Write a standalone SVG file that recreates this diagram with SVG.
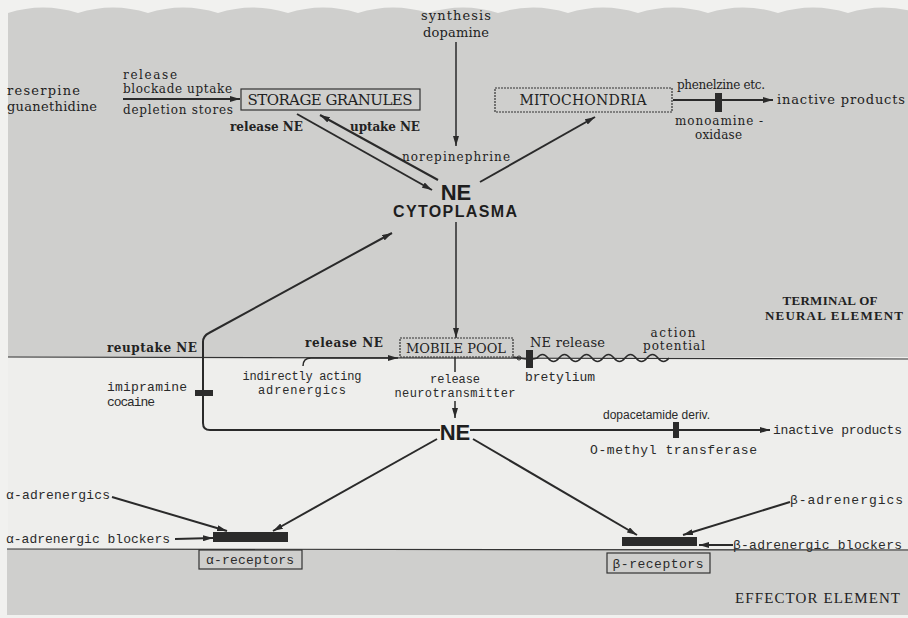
<svg xmlns="http://www.w3.org/2000/svg" width="908" height="618" viewBox="0 0 908 618">
<style>
.s{font-family:"DejaVu Serif","Liberation Serif",serif;font-size:12px;fill:#222}
.sb{font-family:"DejaVu Serif","Liberation Serif",serif;font-size:12px;font-weight:bold;fill:#222}
.ls{font-family:"Liberation Serif","DejaVu Serif",serif;font-size:12px;font-weight:bold;fill:#222}
.lsn{font-family:"Liberation Serif","DejaVu Serif",serif;font-size:12px;fill:#222}
.ss{font-family:"Liberation Sans","DejaVu Sans",sans-serif;font-size:12px;fill:#2a2a2a}
.m{font-family:"Liberation Mono","DejaVu Sans Mono",monospace;font-size:13px;fill:#2a2a2a}
.m2{font-family:"Liberation Mono","DejaVu Sans Mono",monospace;font-size:12px;fill:#2a2a2a}
.h{font-family:"Liberation Sans","DejaVu Sans",sans-serif;font-weight:bold;fill:#1e1e1e}
.box{fill:none;stroke:#333;stroke-width:1.2}
.dbox{fill:none;stroke:#333;stroke-width:1.2;stroke-dasharray:2 1}
.ln{stroke:#2a2a2a;stroke-width:2;fill:none}
.tl{stroke:#2a2a2a;stroke-width:1.5;fill:none}
.blk{fill:#2b2b2b}
.c{text-anchor:middle}
</style>
<defs>
<marker id="a" viewBox="0 0 10 6" refX="10" refY="3" markerWidth="10" markerHeight="6" markerUnits="userSpaceOnUse" orient="auto">
<path d="M0,0 L10,3 L0,6 z" fill="#2a2a2a"/>
</marker>
</defs>
<rect width="908" height="618" fill="#f1f1ef"/>
<g id="background">
<path d="M8,13 q35,-11 70,0 q35,-11 70,0 q35,-11 70,0 q35,-11 70,0 q35,-11 70,0 q35,-11 70,0 q35,-11 70,0 q35,-11 70,0 q35,-11 70,0 q35,-11 70,0 q35,-11 70,0 q35,-11 70,0 q35,-11 70,0 L908,357 L8,357 z" fill="#cfcfcd"/>
<rect x="8" y="357" width="900" height="192" fill="#eeeeec"/>
<rect x="7" y="549" width="901" height="66" fill="#cfcfcd"/>
<line x1="8" y1="357" x2="908" y2="359" stroke="#333" stroke-width="1.2"/>
<line x1="7" y1="549" x2="908" y2="550" stroke="#333" stroke-width="1.2"/>
</g>
<g id="connectors">
<line class="tl" x1="456" y1="42" x2="456" y2="146" marker-end="url(#a)"/>
<line class="ln" x1="123" y1="99" x2="240" y2="99" marker-end="url(#a)"/>
<line class="ln" x1="297" y1="114" x2="432" y2="190" marker-end="url(#a)"/>
<line class="ln" x1="438" y1="180" x2="320" y2="115" marker-end="url(#a)"/>
<line class="ln" x1="480" y1="182" x2="595" y2="117" marker-end="url(#a)"/>
<line class="ln" x1="673" y1="100" x2="773" y2="100" marker-end="url(#a)"/>
<rect class="blk" x="715" y="93" width="7" height="19"/>
<line class="tl" x1="456" y1="222" x2="456" y2="338" marker-end="url(#a)"/>
<line class="tl" x1="455" y1="357" x2="455" y2="372"/>
<line class="tl" x1="455" y1="401" x2="455" y2="418" marker-end="url(#a)"/>
<path class="ln" d="M440,430 L210,430 Q203,430 203,423 L203,342 Q203,336 209,333 L392,233" marker-end="url(#a)"/>
<rect class="blk" x="195" y="390" width="18" height="6"/>
<path class="tl" d="M303,366 Q303,358 311,358 L398,358" marker-end="url(#a)"/>
<line class="tl" x1="513" y1="357" x2="526" y2="359"/>
<circle cx="519" cy="358" r="2" fill="none" stroke="#2a2a2a" stroke-width="1"/>
<rect class="blk" x="526" y="350" width="7" height="18"/>
<path class="tl" d="M533,359 L537,358 q5.5,-7 11,0 t11,0 t11,0 t11,0 t11,0 t11,0 t11,0 t11,0 t11,0 t11,0 t11,0 t11,0"/>
<line class="ln" x1="470" y1="430" x2="770" y2="430" marker-end="url(#a)"/>
<rect class="blk" x="673" y="422" width="6" height="16"/>
<line class="ln" x1="437" y1="439" x2="273" y2="531" marker-end="url(#a)"/>
<line class="ln" x1="473" y1="439" x2="637" y2="535" marker-end="url(#a)"/>
<line class="ln" x1="112" y1="497" x2="227" y2="531" marker-end="url(#a)"/>
<line class="ln" x1="175" y1="539" x2="213" y2="538" marker-end="url(#a)"/>
<line class="ln" x1="790" y1="502" x2="683" y2="535" marker-end="url(#a)"/>
<line class="ln" x1="733" y1="545" x2="699" y2="545" marker-end="url(#a)"/>
</g>
<g id="synthesis">
<text class="s c" x="456" y="20" style="font-size:13px" textLength="70">synthesis</text>
<text class="s c" x="456" y="37" style="font-size:13px" textLength="66">dopamine</text>
</g>
<g id="reserpine">
<text class="s" x="7" y="95" style="font-size:13px" textLength="73">reserpine</text>
<text class="s" x="7" y="111" style="font-size:13px" textLength="90">guanethidine</text>
<text class="s" x="123" y="79" textLength="54">release</text>
<text class="s" x="123" y="93" textLength="109">blockade uptake</text>
<text class="s" x="123" y="114" textLength="110">depletion stores</text>
</g>
<g id="storage-granules">
<rect class="box" x="241" y="89" width="179" height="21"/>
<text class="s c" x="330" y="105" style="font-size:15px" textLength="165">STORAGE GRANULES</text>
<text class="sb" x="230" y="131" textLength="73">release NE</text>
<text class="sb" x="350" y="131" textLength="70">uptake NE</text>
</g>
<g id="ne-cytoplasma">
<text class="s" x="402" y="161" textLength="108">norepinephrine</text>
<text class="h c" x="456" y="200" style="font-size:22px">NE</text>
<text class="h c" x="455" y="217" style="font-size:16px" textLength="124">CYTOPLASMA</text>
</g>
<g id="mitochondria">
<rect class="dbox" x="495" y="88" width="177" height="24"/>
<text class="s c" x="583" y="105" style="font-size:14px" textLength="127">MITOCHONDRIA</text>
<text class="s" x="677" y="89" style="font-size:12px" textLength="88">phenelzine etc.</text>
<text class="s" x="675" y="125" style="font-size:12px" textLength="88">monoamine -</text>
<text class="s" x="695" y="139" style="font-size:12px" textLength="47">oxidase</text>
<text class="s" x="777" y="104" style="font-size:13px" textLength="128">inactive products</text>
</g>
<g id="terminal-label">
<text class="ls c" x="830" y="305" style="font-size:13px" textLength="95">TERMINAL OF</text>
<text class="ls" x="765" y="320" style="font-size:13px" textLength="138">NEURAL ELEMENT</text>
</g>
<g id="reuptake">
<text class="sb" x="107" y="352" textLength="90">reuptake NE</text>
<text class="m" x="107" y="391" textLength="80">imipramine</text>
<text class="m" x="107" y="406" textLength="48">cocaine</text>
</g>
<g id="indirect">
<text class="sb" x="305" y="347" textLength="78">release NE</text>
<text class="m2 c" x="302" y="380" textLength="119">indirectly acting</text>
<text class="m2 c" x="302" y="394" textLength="88">adrenergics</text>
</g>
<g id="mobile-pool">
<rect class="dbox" x="400" y="338" width="113" height="19"/>
<text class="s c" x="456" y="353" style="font-size:13px" textLength="100">MOBILE POOL</text>
<text class="m2 c" x="455" y="383" textLength="50">release</text>
<text class="m2 c" x="455" y="397" textLength="121">neurotransmitter</text>
</g>
<g id="action-potential">
<text class="s" x="530" y="347" style="font-size:13px" textLength="75">NE release</text>
<text class="m" x="525" y="381" textLength="70">bretylium</text>
<text class="s c" x="673" y="337" style="font-size:12px" textLength="45">action</text>
<text class="s" x="643" y="350" style="font-size:12px" textLength="62">potential</text>
</g>
<g id="ne-synaptic">
<text class="h c" x="455" y="440" style="font-size:22px">NE</text>
<text class="ss" x="603" y="419" textLength="107">dopacetamide deriv.</text>
<text class="m" x="590" y="454" textLength="167">O-methyl transferase</text>
<text class="m" x="773" y="434" textLength="129">inactive products</text>
</g>
<g id="alpha-receptors">
<text class="m" x="6" y="499" textLength="104">α-adrenergics</text>
<text class="m" x="6" y="543" textLength="164">α-adrenergic blockers</text>
<rect class="blk" x="213" y="532" width="75" height="10"/>
<rect class="box" x="199" y="550" width="103" height="19"/>
<text class="m c" x="250" y="564" textLength="88">α-receptors</text>
</g>
<g id="beta-receptors">
<text class="m" x="790" y="504" textLength="113">β-adrenergics</text>
<text class="m" x="733" y="549" textLength="169">β-adrenergic blockers</text>
<rect class="blk" x="622" y="537" width="75" height="9"/>
<rect class="box" x="607" y="553" width="103" height="20"/>
<text class="m c" x="658" y="568" textLength="91">β-receptors</text>
</g>
<g id="effector-label">
<text class="lsn" x="735" y="603" style="font-size:15px" textLength="165">EFFECTOR ELEMENT</text>
</g>
</svg>
